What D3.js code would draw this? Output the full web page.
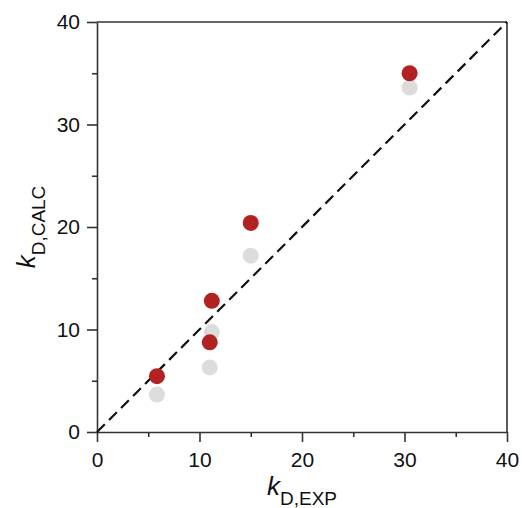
<!DOCTYPE html>
<html>
<head>
<meta charset="utf-8">
<script src="https://cdn.jsdelivr.net/npm/d3@7"></script>
<style>
  html, body { margin: 0; padding: 0; background: #fff; }
  svg { display: block; }
  text { font-family: "Liberation Sans", Arial, Helvetica, sans-serif; fill: #111; }
</style>
</head>
<body>
<svg id="chart" width="522" height="508"></svg>
<script>
// Data
const kExp = [5.85, 11.0, 11.2, 15.0, 30.5];
const kCalcRed = [5.45, 8.75, 12.8, 20.4, 35.0];
const kCalcGrey = [3.65, 6.3, 9.75, 17.2, 33.6];
const majorTicks = [0, 10, 20, 30, 40];
const minorTicks = [5, 15, 25, 35];
const identityLine = [0, 40];

(function () {
const svg = d3.select("#chart");
const mLeft = 97, mRight = 507, mTop = 22, mBottom = 432;

const x = d3.scaleLinear().domain([0, 40]).range([mLeft, mRight]);
const y = d3.scaleLinear().domain([0, 40]).range([mBottom, mTop]);

const axisColor = "#333";

// box (top & right)
svg.append("line").attr("x1", x(0)).attr("x2", x(40)).attr("y1", y(40)).attr("y2", y(40))
  .attr("stroke", axisColor).attr("stroke-width", 1.6);
svg.append("line").attr("x1", x(40)).attr("x2", x(40)).attr("y1", y(0)).attr("y2", y(40))
  .attr("stroke", axisColor).attr("stroke-width", 1.6);

// X axis
const gx = svg.append("g").attr("transform", `translate(0,${mBottom})`);
gx.call(d3.axisBottom(x).tickValues(majorTicks).tickSize(10).tickSizeOuter(0).tickPadding(10).tickFormat(d3.format("d")));
const gxm = svg.append("g").attr("transform", `translate(0,${mBottom})`);
gxm.call(d3.axisBottom(x).tickValues(minorTicks).tickSize(5).tickSizeOuter(0).tickFormat(""));
gxm.select(".domain").remove();

// Y axis
const gy = svg.append("g").attr("transform", `translate(${mLeft},0)`);
gy.call(d3.axisLeft(y).tickValues(majorTicks).tickSize(10).tickSizeOuter(0).tickPadding(7).tickFormat(d3.format("d")));
const gym = svg.append("g").attr("transform", `translate(${mLeft},0)`);
gym.call(d3.axisLeft(y).tickValues(minorTicks).tickSize(5).tickSizeOuter(0).tickFormat(""));
gym.select(".domain").remove();

svg.selectAll(".domain, .tick line").attr("stroke", axisColor).attr("stroke-width", 1.6);
svg.selectAll(".tick text").attr("font-size", 21)
  .attr("font-family", "'Liberation Sans', Arial, Helvetica, sans-serif").attr("fill", "#111");

// identity dashed line
svg.append("line")
  .attr("x1", x(identityLine[0])).attr("y1", y(identityLine[0]))
  .attr("x2", x(identityLine[1])).attr("y2", y(identityLine[1]))
  .attr("stroke", "#111").attr("stroke-width", 2.2).attr("stroke-dasharray", "11,6");

// points: grey first, red on top
svg.append("g").selectAll("circle").data(kExp).join("circle")
  .attr("cx", d => x(d)).attr("cy", (d, i) => y(kCalcGrey[i])).attr("r", 8)
  .attr("fill", "#dcdcdc");
svg.append("g").selectAll("circle").data(kExp).join("circle")
  .attr("cx", d => x(d)).attr("cy", (d, i) => y(kCalcRed[i])).attr("r", 8)
  .attr("fill", "#b22222");

// axis labels
const xl = svg.append("text").attr("x", 302).attr("y", 495).attr("text-anchor", "middle");
xl.append("tspan").attr("font-style", "italic").attr("font-size", 26).text("k");
xl.append("tspan").attr("font-size", 19).attr("dy", 10).text("D,EXP");

const yl = svg.append("text").attr("transform", `translate(35,${(mTop + mBottom) / 2}) rotate(-90)`)
  .attr("text-anchor", "middle");
yl.append("tspan").attr("font-style", "italic").attr("font-size", 26).text("k");
yl.append("tspan").attr("font-size", 19).attr("dy", 10).text("D,CALC");
})();
</script>
</body>
</html>
